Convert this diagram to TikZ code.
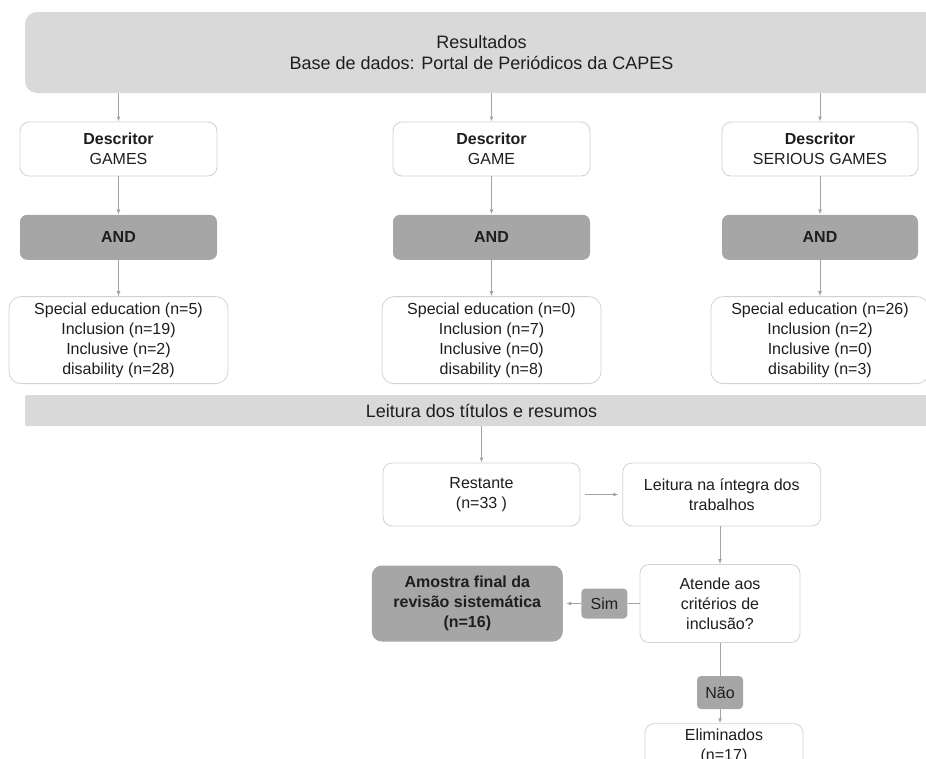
\documentclass[tikz,border=0pt]{standalone}
\usepackage{fontspec}
\setmainfont{Liberation Sans}
\usepackage{xcolor}
\usepackage{tikz}
\usetikzlibrary{arrows.meta,positioning}
\definecolor{lightfill}{HTML}{D9D9D9}
\definecolor{darkfill}{HTML}{A6A6A6}
\definecolor{edgegray}{HTML}{D2D2D2}
\definecolor{arrowgray}{HTML}{A3A3A3}
\definecolor{inkgray}{HTML}{1E1E1E}
\newcommand{\bodyfont}{\fontsize{16}{20}\selectfont}
\newcommand{\headfont}{\fontsize{18}{21}\selectfont}
\tikzset{
  dbox/.style={draw=edgegray, line width=0.8pt, rounded corners=9pt, fill=white,
               align=center, font=\bodyfont, text=inkgray,
               minimum width=197pt, minimum height=54pt, inner sep=2pt},
  andbox/.style={dbox, draw=none, fill=darkfill, font=\bodyfont\bfseries,
               minimum height=45pt, rounded corners=7pt},
  resbox/.style={dbox, minimum width=219pt, minimum height=87pt, rounded corners=12pt},
  headbox/.style={fill=lightfill, rounded corners=12pt, align=center, font=\headfont,
               text=inkgray, minimum width=913pt, minimum height=81pt},
  bandbox/.style={fill=lightfill, rounded corners=2pt, font=\headfont, text=inkgray,
               minimum width=913pt, minimum height=31pt, inner sep=0pt},
  tagbox/.style={fill=darkfill, rounded corners=4pt, font=\bodyfont, text=inkgray,
               minimum width=46pt, minimum height=30pt, inner sep=0pt},
  flow/.style={-{Latex[length=5pt,width=4pt]}, line width=1pt, arrowgray},
  link/.style={line width=1pt, arrowgray},
}

\begin{document}
\begin{tikzpicture}[x=1pt, y=-1pt]
  \useasboundingbox (0,0) rectangle (926,758);
  \node[headbox] (head) at (481.5,52.5) {Resultados\\ Base de dados: Portal de Periódicos da CAPES};
  % descritores
  \node[dbox] (games) at (118.5,149) {\textbf{Descritor}\\ GAMES};
  \node[dbox] (game) at (491.5,149) {\textbf{Descritor}\\ GAME};
  \node[dbox, minimum width=196pt] (serious) at (820,149) {\textbf{Descritor}\\ SERIOUS GAMES};
  \node[andbox, below=38pt of games] (and1) {AND};
  \node[andbox, below=38pt of game] (and2) {AND};
  \node[andbox, minimum width=196pt, below=38pt of serious] (and3) {AND};
  \node[resbox, below=36pt of and1] (res1) {Special education (n=5)\\ Inclusion (n=19)\\ Inclusive (n=2)\\ disability (n=28)};
  \node[resbox, below=36pt of and2] (res2) {Special education (n=0)\\ Inclusion (n=7)\\ Inclusive (n=0)\\ disability (n=8)};
  \node[resbox, minimum width=218pt, below=36pt of and3] (res3) {Special education (n=26)\\ Inclusion (n=2)\\ Inclusive (n=0)\\ disability (n=3)};
  % triagem
  \node[bandbox] (band) at (481.5,410.5) {Leitura dos títulos e resumos};
  \node[dbox, minimum height=63pt] (rest) at (481.5,494.5) {Restante\\ (n=33 )};
  \node[dbox, minimum width=198pt, minimum height=63pt, right=42pt of rest] (full) {Leitura na íntegra dos\\ trabalhos};
  \node[dbox, minimum width=160pt, minimum height=78pt] (crit) at (720,603.5) {Atende aos\\ critérios de\\ inclusão?};
  \node[tagbox, left=12pt of crit] (yes) {Sim};
  \node[andbox, minimum width=191pt, minimum height=76pt, rounded corners=10pt, left=18pt of yes] (final) {Amostra final da\\ revisão sistemática\\ (n=16)};
  \node[tagbox, minimum height=33pt, below=33pt of crit] (no) {Não};
  \node[dbox, minimum width=158pt, minimum height=46pt, below=14pt of no, xshift=4pt] (elim) {Eliminados\\ (n=17)};

  \foreach \d/\a/\r in {games/and1/res1, game/and2/res2, serious/and3/res3} {
    \draw[flow] (head.south -| \d.north) -- (\d.north);
    \draw[flow] (\d) -- (\a);
    \draw[flow] (\a) -- (\r);
  }
  \draw[flow] (band.south -| rest.north) -- (rest.north);
  \draw[flow, shorten <=5pt, shorten >=4pt] (rest) -- (full);
  \draw[flow] (crit.north |- full.south) -- (crit.north);
  \draw[link] (crit) -- (yes);
  \draw[flow, shorten >=3pt] (yes) -- (final);
  \draw[link] (crit) -- (no);
  \draw[flow] (no) -- (no |- elim.north);
\end{tikzpicture}
\end{document}
